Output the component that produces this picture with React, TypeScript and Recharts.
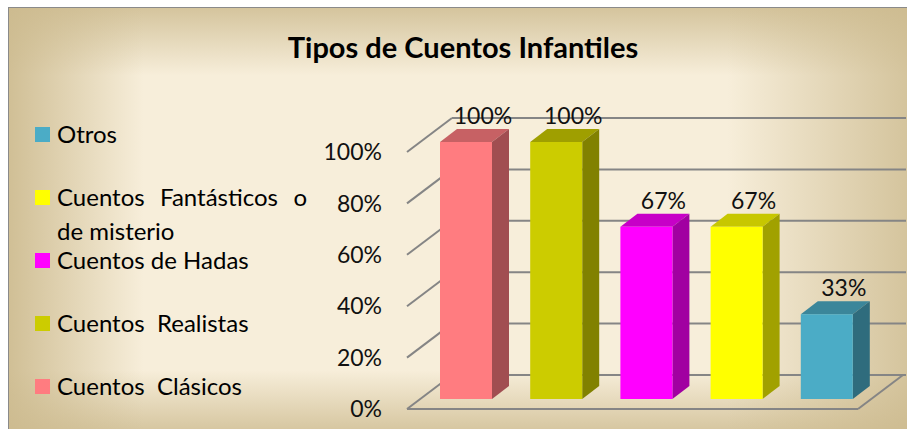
import React from "react";
import { BarChart, Bar, XAxis, YAxis, CartesianGrid, Cell, LabelList } from "recharts";

// Chart data
const TITLE = "Tipos de Cuentos Infantiles";
const CATEGORIES = [
  "Cuentos  Clásicos",
  "Cuentos  Realistas",
  "Cuentos de Hadas",
  "Cuentos  Fantásticos  o de misterio",
  "Otros",
];
const VALUES = [1, 1, 0.67, 0.67, 0.33];
const COLORS = ["#FF7C80", "#CCCC00", "#FF00FF", "#FFFF00", "#4BACC6"];
const Y_TICKS = [0, 0.2, 0.4, 0.6, 0.8, 1];

const FONT = "Lato, 'Open Sans', sans-serif";

// fake 3d geometry (px)
const DEPTH_X = 45;
const DEPTH_Y = 34;
const BAR_DX = 14;
const BAR_DY = 10;
const SIDE_X = 17;
const SIDE_Y = 13;
const PLOT_BOTTOM = 401;

const W = 898;
const H = 421;

const data = CATEGORIES.map((name, i) => ({ name, value: VALUES[i], color: COLORS[i] }));

function shade(hex: string, f: number): string {
  const n = parseInt(hex.slice(1), 16);
  const r = Math.round(((n >> 16) & 255) * f);
  const g = Math.round(((n >> 8) & 255) * f);
  const b = Math.round((n & 255) * f);
  return `rgb(${r},${g},${b})`;
}

function pct(v: number) {
  return `${Math.round(v * 100)}%`;
}

function Bar3D(props: any) {
  const { x, y, width, height, fill } = props;
  if (!height) return null;
  const fx = x + BAR_DX;
  const fy = y - BAR_DY;
  return (
    <g>
      <polygon
        points={`${fx},${fy} ${fx + SIDE_X},${fy - SIDE_Y} ${fx + width + SIDE_X},${fy - SIDE_Y} ${fx + width},${fy}`}
        fill={shade(fill, 0.78)}
      />
      <polygon
        points={`${fx + width},${fy} ${fx + width + SIDE_X},${fy - SIDE_Y} ${fx + width + SIDE_X},${fy + height - SIDE_Y} ${fx + width},${fy + height}`}
        fill={shade(fill, 0.63)}
      />
      <rect x={fx} y={fy} width={width} height={height} fill={fill} />
    </g>
  );
}

// back wall + floor lines built from the y axis grid positions
function WallLine(props: any) {
  const { x1, y1, x2, index } = props;
  const stroke = "#858585";
  const bx = x1 + DEPTH_X;
  const by = y1 - DEPTH_Y;
  const floor = Math.abs(y1 - PLOT_BOTTOM) < 1;
  return (
    <g key={`wall-${index}`}>
      <line x1={x1} y1={y1} x2={bx} y2={by} stroke={stroke} strokeWidth={2} />
      <line x1={bx} y1={by} x2={x2 + DEPTH_X + 3} y2={by} stroke={stroke} strokeWidth={2} />
      {floor && (
        <>
          <line x1={x1} y1={y1} x2={x2} y2={y1} stroke={stroke} strokeWidth={2} />
          <line x1={x2} y1={y1} x2={x2 + DEPTH_X} y2={by} stroke={stroke} strokeWidth={2} />
        </>
      )}
    </g>
  );
}

function ValueLabel(props: any) {
  const { x, y, width, value } = props;
  return (
    <text
      x={x + width / 2 + BAR_DX + 17}
      y={y - BAR_DY - 27}
      textAnchor="middle"
      dominantBaseline="central"
      fontFamily={FONT}
      fontSize={23}
      fill="#111"
    >
      {pct(value)}
    </text>
  );
}

export default function App() {
  const legendItems = [...CATEGORIES].map((c, i) => ({ name: c, color: COLORS[i] })).reverse();
  return (
    <div
      style={{
        position: "fixed",
        left: 8,
        top: 7,
        width: W + 1,
        height: H + 1,
        boxSizing: "border-box",
        borderTop: "1px solid #8A8A8A",
        borderLeft: "1px solid #8A8A8A",
        overflow: "hidden",
        fontFamily: FONT,
        background:
          "linear-gradient(to right, rgba(204,186,142,0.9) 0%, rgba(204,186,142,0) 15%, rgba(204,186,142,0) 80%, rgba(204,186,142,0.8) 100%)," +
          "linear-gradient(to bottom, rgba(204,186,142,0.8) 0%, rgba(204,186,142,0) 16%, rgba(204,186,142,0) 86%, rgba(204,186,142,0.75) 100%)," +
          "#F7EEDA",
      }}
    >
      <div
        style={{
          position: "absolute",
          left: 10,
          top: 22,
          width: W - 10,
          textAlign: "center",
          fontSize: 29,
          lineHeight: "34px",
          fontWeight: 700,
          color: "#000",
        }}
      >
        {TITLE}
      </div>

      {legendItems.map((item, i) => (
        <div
          key={item.name}
          style={{ position: "absolute", left: 26, top: 109 + i * 63, display: "flex", alignItems: "flex-start" }}
        >
          <div style={{ width: 15, height: 15, marginTop: 10, background: item.color, flex: "none" }} />
          <div
            style={{
              marginLeft: 7,
              width: 250,
              fontSize: 24,
              lineHeight: "34px",
              whiteSpace: "pre-wrap",
              textAlign: "justify",
              color: "#000",
            }}
          >
            {item.name}
          </div>
        </div>
      ))}

      <div style={{ position: "absolute", left: 0, top: 0 }}>
        <BarChart
          width={W}
          height={H}
          data={data}
          margin={{ top: 144, right: 49, bottom: 20, left: 338 }}
          barSize={52}
        >
          <CartesianGrid vertical={false} horizontal={(p: any) => <WallLine {...p} />} />
          <XAxis dataKey="name" hide />
          <YAxis
            domain={[0, 1]}
            ticks={Y_TICKS}
            tickFormatter={pct}
            axisLine={false}
            tickLine={false}
            tickSize={0}
            tickMargin={25}
            width={60}
            tick={{ fill: "#111", fontSize: 23, fontFamily: FONT }}
          />
          <Bar dataKey="value" shape={<Bar3D />} isAnimationActive={false}>
            {data.map((d, i) => (
              <Cell key={i} fill={d.color} />
            ))}
            <LabelList dataKey="value" content={<ValueLabel />} />
          </Bar>
        </BarChart>
      </div>
    </div>
  );
}
